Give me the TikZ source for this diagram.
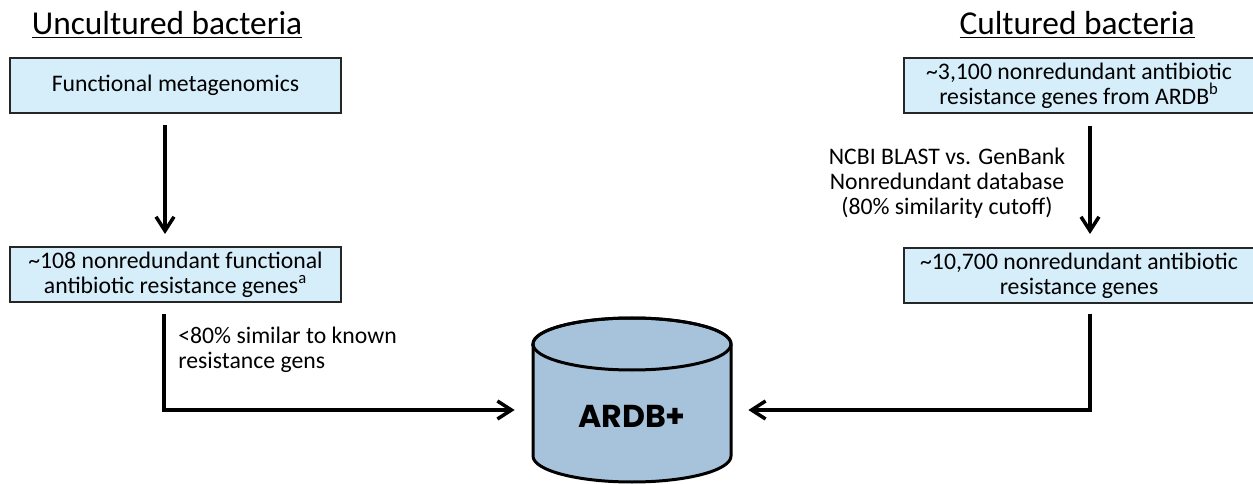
\documentclass[tikz,border=0pt]{standalone}
\usepackage{fontspec}
\setmainfont{Carlito}
\newfontfamily\dbfont{Poppins}
\usetikzlibrary{positioning,arrows.meta}
\definecolor{boxblue}{RGB}{214,237,250}
\definecolor{dbblue}{RGB}{166,195,219}
\tikzset{
    box/.style={draw=black!85, line width=0.04cm, fill=boxblue, minimum height=1.1cm,
        align=center, inner sep=0, font=\fontsize{13.5}{14.2}\selectfont},
    heading/.style={inner sep=0, font=\fontsize{19}{22}\selectfont},
    note/.style={inner sep=0, font=\fontsize{13.5}{14.2}\selectfont},
    flow/.style={line width=0.07cm, -{Straight Barb[length=0.28cm,width=0.36cm]}},
}
\begin{document}
\begin{tikzpicture}
                    \useasboundingbox (0,0) rectangle (25.06,-9.68);
                    \node[box, minimum width=6.62cm] (func) at (3.51,-1.71) {Functional metagenomics};
                    \node[box, minimum width=6.62cm, below=2.64cm of func] (fgenes)
                        {\textasciitilde108 nonredundant functional\\antibiotic resistance genes\textsuperscript{a}};
                    \node[box, minimum width=7cm, right=11.22cm of func] (ardb)
                        {\textasciitilde3,100 nonredundant antibiotic\\resistance genes from ARDB\textsuperscript{b}};
                    \node[box, minimum width=7cm, below=2.66cm of ardb] (cgenes)
                        {\textasciitilde10,700 nonredundant antibiotic\\resistance genes};
                    \node[heading, above=0.36cm of func, xshift=-0.17cm] (uncult) {\underline{Uncultured bacteria}};
                    \node[heading, above=0.36cm of ardb, xshift=-0.04cm] (cult) {\underline{Cultured bacteria}};

                    \coordinate (dbc) at (12.64,-8.32);
                    \begin{scope}[shift={(dbc)}, line width=0.06cm]
                        \filldraw[fill=dbblue] (-1.98,1.44) -- (-1.98,-0.80)
                            arc[start angle=180, end angle=360, x radius=1.98cm, y radius=0.52cm]
                            -- (1.98,1.44)
                            arc[start angle=0, end angle=180, x radius=1.98cm, y radius=0.52cm] -- cycle;
                        \draw (0,1.44) ellipse[x radius=1.98cm, y radius=0.52cm];
                    \end{scope}
                    \node[minimum width=3.96cm, inner sep=0, font=\dbfont\bfseries\fontsize{18}{20}\selectfont] (db) at (dbc) {ARDB+};

                    \node[note, align=left, anchor=west] (similar) at (3.56,-7.0)
                        {<80\% similar to known\\resistance gens};
                    \node[note, align=center] (blast) at (18.94,-3.66)
                        {NCBI BLAST vs. GenBank\\Nonredundant database\\(80\% similarity cutoff)};

                    \draw[flow] ([xshift=-0.21cm, yshift=-0.22cm]func.south) -- ([xshift=-0.21cm, yshift=0.24cm]fgenes.north);
                    \draw[flow] ([xshift=0.22cm, yshift=-0.24cm]ardb.south) -- ([xshift=0.22cm, yshift=0.26cm]cgenes.north);
                    \draw[flow] ([xshift=-0.23cm, yshift=-0.22cm]fgenes.south) |- ([xshift=-0.36cm, yshift=0.12cm]db.west);
                    \draw[flow] ([xshift=0.22cm, yshift=-0.2cm]cgenes.south) |- ([xshift=0.34cm, yshift=0.12cm]db.east);
\end{tikzpicture}
\end{document}
